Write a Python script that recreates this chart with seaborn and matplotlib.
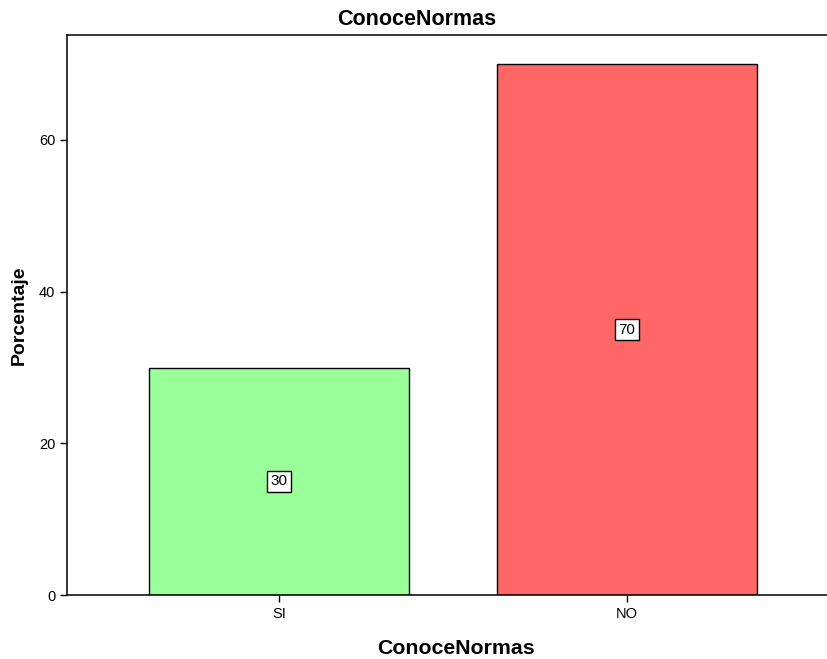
import matplotlib
matplotlib.use("Agg")
import matplotlib.pyplot as plt
import pandas as pd
import seaborn as sns

categorias = ["SI", "NO"]
porcentajes = [30, 70]
colores = ["#99ff99", "#ff6666"]

df = pd.DataFrame({"ConoceNormas": categorias, "Porcentaje": porcentajes})

sns.set_style("ticks")
plt.rcParams["font.family"] = ["Liberation Sans", "DejaVu Sans"]
plt.rcParams["text.color"] = "black"
plt.rcParams["axes.labelcolor"] = "black"

fig = plt.figure(figsize=(8.27, 6.59), dpi=100)
ax = fig.add_axes([0.081, 0.097, 0.919, 0.85])

sns.barplot(
    data=df,
    x="ConoceNormas",
    y="Porcentaje",
    hue="ConoceNormas",
    palette=colores,
    saturation=1,
    width=0.747,
    edgecolor="black",
    linewidth=1,
    legend=False,
    ax=ax,
)

for i, v in enumerate(porcentajes):
    ax.text(
        i, v / 2, str(v),
        ha="center", va="center", fontsize=11, color="black",
        bbox=dict(boxstyle="square,pad=0.22", fc="white", ec="black", lw=1),
    )

ax.set_xlim(-0.609, 1.575)
ax.set_ylim(0, 73.85)
ax.set_yticks([0, 20, 40, 60])
ax.spines["right"].set_visible(False)
for s in ["left", "top", "bottom"]:
    ax.spines[s].set_linewidth(1.1)
    ax.spines[s].set_color("black")
ax.tick_params(axis="both", direction="out", length=5, width=1, color="black",
               labelsize=10.5, labelcolor="black")

ax.set_title("ConoceNormas", fontsize=15.5, fontweight="bold", pad=7,
             color="black", x=0.46)
ax.set_xlabel("ConoceNormas", fontsize=15.3, fontweight="bold", labelpad=13, color="black")
ax.xaxis.label.set_x(0.512)
ax.set_ylabel("Porcentaje", fontsize=14, fontweight="bold", labelpad=8, color="black")

fig.savefig("out.png", dpi=100)
